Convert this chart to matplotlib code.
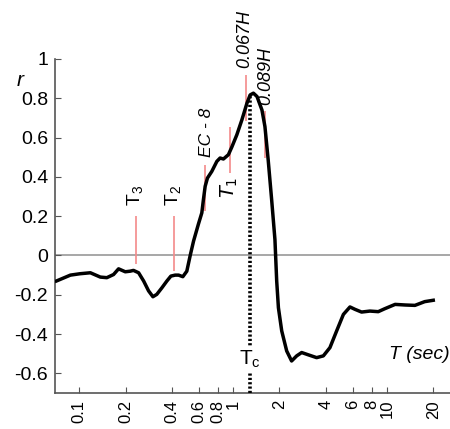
import matplotlib
matplotlib.use('Agg')
import matplotlib.pyplot as plt

plt.rcParams['font.family'] = ['Liberation Sans', 'DejaVu Sans']

# curve r(T)
T = [0.071, 0.0875, 0.101, 0.118, 0.137, 0.151, 0.167, 0.180, 0.199, 0.214, 0.225,
     0.243, 0.262, 0.282, 0.301, 0.319, 0.344, 0.371, 0.394, 0.42, 0.442, 0.471,
     0.50, 0.526, 0.553, 0.595, 0.626, 0.641, 0.658, 0.681, 0.727, 0.784, 0.823,
     0.865, 0.932, 0.981, 1.057, 1.14, 1.23, 1.29, 1.355, 1.43, 1.54, 1.61, 1.69,
     1.78, 1.87, 1.92, 1.97, 2.07, 2.23, 2.40, 2.59, 2.79, 3.09, 3.49, 3.86, 4.26,
     4.71, 5.21, 5.75, 6.19, 6.84, 7.75, 8.78, 9.68, 11.3, 13.1, 15.2, 17.6, 20.0]
r = [-0.13, -0.10, -0.093, -0.088, -0.11, -0.113, -0.097, -0.068, -0.083, -0.08, -0.076,
     -0.088, -0.13, -0.18, -0.21, -0.198, -0.165, -0.13, -0.105, -0.10, -0.10, -0.108,
     -0.08, 0.0, 0.073, 0.16, 0.217, 0.284, 0.352, 0.394, 0.428, 0.479, 0.496,
     0.491, 0.513, 0.552, 0.614, 0.69, 0.775, 0.817, 0.826, 0.809, 0.74, 0.656, 0.487,
     0.284, 0.081, -0.13, -0.266, -0.384, -0.486, -0.537, -0.511, -0.494, -0.506, -0.52, -0.511, -0.469,
     -0.384, -0.30, -0.262, -0.274, -0.288, -0.283, -0.286, -0.271, -0.249, -0.252, -0.254, -0.235, -0.228]

# red period markers: position, bottom, top
mark_T = [0.233, 0.41, 0.658, 0.956, 1.215, 1.613]
mark_lo = [-0.045, -0.08, 0.225, 0.42, 0.682, 0.496]
mark_hi = [0.2, 0.2, 0.462, 0.656, 0.919, 0.733]

Tc = 1.29
Tc_top = 0.817

xticks = [0.1, 0.2, 0.4, 0.6, 0.8, 1, 2, 4, 6, 8, 10, 20]
xticklabels = ['0.1', '0.2', '0.4', '0.6', '0.8', '1', '2', '4', '6', '8', '10', '20']
yticks = [-0.6, -0.4, -0.2, 0, 0.2, 0.4, 0.6, 0.8, 1]
yticklabels = ['-0.6', '-0.4', '-0.2', '0', '0.2', '0.4', '0.6', '0.8', '1']

fig = plt.figure(figsize=(4.5, 4.29), dpi=100)
ax = fig.add_axes([0.1222, 0.0839, 0.8778, 0.7786])
ax.set_xscale('log')
ax.set_xlim(0.0695, 25.7)
ax.set_ylim(-0.7, 1.0)

ax.axhline(0, color='#a0a0a0', lw=1.3, zorder=1)
ax.vlines(mark_T, mark_lo, mark_hi, color='#f48a8a', lw=1.2, zorder=2)
ax.vlines(Tc, -0.7, Tc_top, color='black', lw=2.6, linestyles=(0, (0.6, 0.6)), zorder=3)
ax.plot(T, r, color='black', lw=2.5, zorder=4, solid_joinstyle='round')

ax.text(Tc, -0.53, 'T$_\\mathregular{c}$', fontsize=15, ha='center', va='center',
        bbox=dict(facecolor='white', edgecolor='none', pad=1.0), zorder=5)

ax.text(0.234, 0.305, 'T$_\\mathregular{3}$', fontsize=14, rotation=90, ha='center', va='center')
ax.text(0.413, 0.305, 'T$_\\mathregular{2}$', fontsize=14, rotation=90, ha='center', va='center')
ax.text(0.667, 0.50, 'EC - 8', fontsize=12.5, style='italic', rotation=90, ha='center', va='bottom')
ax.text(0.94, 0.345, '$T_1$', fontsize=14, rotation=90, ha='center', va='center')
ax.text(1.196, 0.954, '0.067H', fontsize=13, style='italic', rotation=90, ha='center',
        va='bottom', clip_on=False)
ax.text(1.64, 0.766, '0.089H', fontsize=13, style='italic', rotation=90, ha='center', va='bottom')

ax.text(1.0, 0.115, 'T (sec)', fontsize=14, style='italic', transform=ax.transAxes,
        ha='right', va='center')
fig.text(20 / 450, 1 - 80 / 429, 'r', fontsize=15, style='italic', ha='center', va='center')

ax.set_xticks(xticks)
ax.set_xticklabels(xticklabels, rotation=90, fontsize=12)
ax.minorticks_off()
ax.set_yticks(yticks)
ax.set_yticklabels(yticklabels, fontsize=14)
ax.tick_params(direction='in', length=4, color='#555555', pad=5)

for s in ['top', 'right']:
    ax.spines[s].set_visible(False)
for s in ['left', 'bottom']:
    ax.spines[s].set_color('#555555')
    ax.spines[s].set_linewidth(1.2)

fig.savefig('out.png', dpi=100)
